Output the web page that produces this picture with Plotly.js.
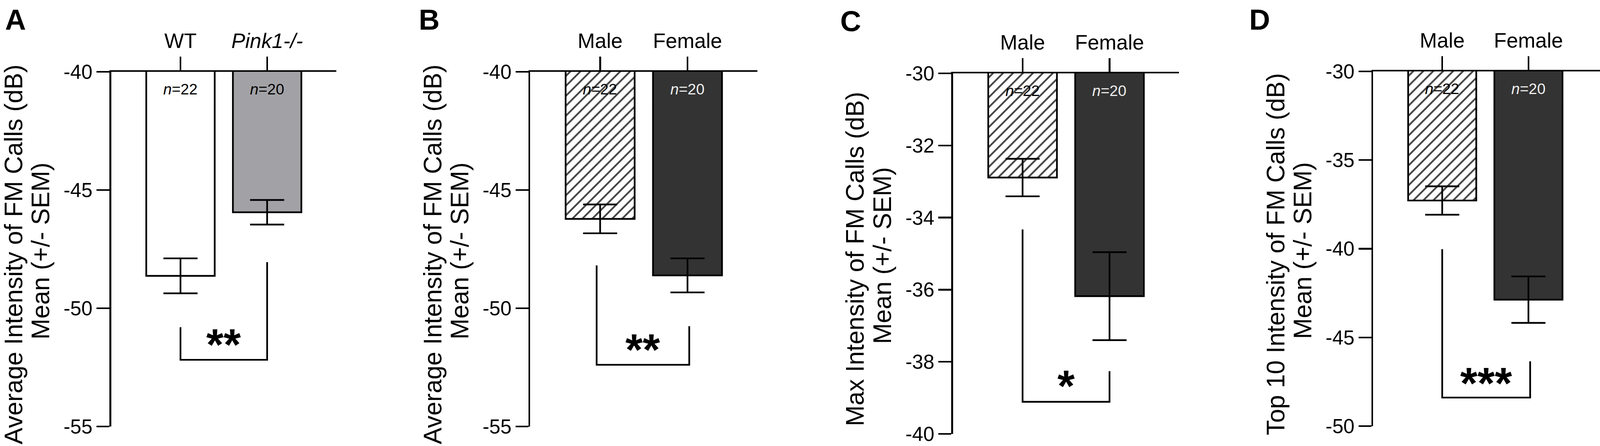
<!DOCTYPE html>
<html>
<head>
<meta charset="utf-8">
<script src="https://cdn.plot.ly/plotly-3.0.1.min.js"></script>
<style>
  html, body { margin: 0; padding: 0; background: #fff; overflow: hidden; }
  #chart { width: 100vw; height: 100vh; }
</style>
</head>
<body>
<div id="chart"></div>
<script>
// ---- data ----
const panelLetters = ['A', 'B', 'C', 'D'];
const groupsGenotype = ['WT', '<i>Pink1-/-</i>'];
const groupsSex = ['Male', 'Female'];
const nLabels = ['<i>n</i>=22', '<i>n</i>=20'];

const meansA = [-48.63, -45.94];
const semA = [0.74, 0.52];
const meansB = [-46.22, -48.61];
const semB = [0.61, 0.72];
const meansC = [-32.89, -36.18];
const semC = [0.52, 1.22];
const meansD = [-37.28, -42.87];
const semD = [0.80, 1.31];

const yTitles = [
  'Average Intensity of FM Calls (dB)',
  'Average Intensity of FM Calls (dB)',
  'Max Intensity of FM Calls (dB)',
  'Top 10 Intensity of FM Calls (dB)'
];
const yTitleLine2 = 'Mean (+/- SEM)';
const yRanges = [[-55, -40], [-55, -40], [-40, -30], [-50, -30]];
const yTicks = [[-55, -50, -45, -40], [-55, -50, -45, -40], [-40, -38, -36, -34, -32, -30], [-50, -45, -40, -35, -30]];

// significance brackets: x of both legs, top of each leg, bottom bar, label
const sigLabels = ['**', '**', '*', '***'];
const bracketX = [[0, 1], [-0.04, 1.02], [0, 1], [0, 1.02]];
const bracketTops = [[-50.8, -48.05], [-48.19, -50.76], [-34.33, -38.26], [-40.02, -46.35]];
const bracketBottom = [-52.18, -52.39, -39.11, -48.39];
const sigY = [-51.28, -51.5, -38.5, -47.24];

// ---- layout geometry (pixels of the 4318x1143 reference) ----
const W0 = 4318, H0 = 1143;
const W = window.innerWidth || W0, H = window.innerHeight || H0;
const kx = W / W0, ky = H / H0;   // the viewport may be narrower than the reference
const xDomPx = [[300, 908], [1431, 2044], [2572, 3182], [3706, 4318]];
const yDomPx = [[184, 1093], [184, 1093], [188, 1112], [183, 1092]];
const xRanges = [[-0.8, 1.8], [-0.8, 1.8], [-0.8, 1.8], [-0.8, 1.83]];
const letterPx = [[42, 50], [1158, 50], [2296, 54], [3399, 50]];

const FONT = 'Liberation Sans, Arial, Helvetica, sans-serif';
const LW = 4.4;

const panels = [
  { cats: groupsGenotype, means: meansA, sem: semA, colors: ['#ffffff', '#a2a2a6'], shapes: ['', ''], nColors: ['#000', '#000'] },
  { cats: groupsSex, means: meansB, sem: semB, colors: ['#ffffff', '#333333'], shapes: ['/', ''], nColors: ['#000', '#eeeeee'] },
  { cats: groupsSex, means: meansC, sem: semC, colors: ['#ffffff', '#333333'], shapes: ['/', ''], nColors: ['#000', '#eeeeee'] },
  { cats: groupsSex, means: meansD, sem: semD, colors: ['#ffffff', '#333333'], shapes: ['/', ''], nColors: ['#000', '#eeeeee'] }
];

const data = [];
const annotations = [];
const layout = {
  width: W,
  height: H,
  margin: { l: 0, r: 0, t: 0, b: 0 },
  paper_bgcolor: '#fff',
  plot_bgcolor: 'rgba(0,0,0,0)',
  showlegend: false,
  font: { family: FONT, color: '#000' },
  annotations: annotations
};

panels.forEach((p, i) => {
  const s = i === 0 ? '' : String(i + 1);
  const xa = 'x' + s, ya = 'y' + s;

  layout['xaxis' + s] = {
    domain: [xDomPx[i][0] / W0, xDomPx[i][1] / W0],
    anchor: ya,
    side: 'top',
    range: xRanges[i],
    tickvals: [0, 1],
    ticktext: p.cats,
    showline: true, linecolor: '#000', linewidth: LW,
    ticks: 'outside', ticklen: 35 * ky, tickwidth: LW, tickcolor: '#000',
    tickfont: { family: FONT, size: 56 * kx, color: '#000' },
    ticklabeloverflow: 'allow',
    showgrid: false, zeroline: false, fixedrange: true
  };
  layout['yaxis' + s] = {
    domain: [1 - yDomPx[i][1] / H0, 1 - yDomPx[i][0] / H0],
    anchor: xa,
    range: yRanges[i],
    tickvals: yTicks[i],
    ticktext: yTicks[i].map(String),
    showline: true, linecolor: '#000', linewidth: LW,
    ticks: 'outside', ticklen: 35 * kx, tickwidth: LW, tickcolor: '#000',
    tickfont: { family: FONT, size: 54 * kx, color: '#000' },
    ticklabeloverflow: 'allow',
    showgrid: false, zeroline: false, fixedrange: true
  };

  data.push({
    type: 'bar',
    x: [0, 1],
    y: p.means,
    xaxis: xa, yaxis: ya,
    width: 0.79,
    marker: {
      color: p.colors,
      line: { color: '#000', width: LW },
      pattern: {
        shape: p.shapes, fillmode: 'overlay', fgcolor: '#000', bgcolor: '#fff',
        fgopacity: 1, size: 19 * kx, solidity: 0.25
      }
    },
    error_y: { type: 'data', array: p.sem, visible: true, color: '#000', thickness: LW, width: 46 * kx },
    hoverinfo: 'skip'
  });

  // significance bracket
  data.push({
    type: 'scatter', mode: 'lines',
    x: [bracketX[i][0], bracketX[i][0], bracketX[i][1], bracketX[i][1]],
    y: [bracketTops[i][0], bracketBottom[i], bracketBottom[i], bracketTops[i][1]],
    xaxis: xa, yaxis: ya,
    line: { color: '#000', width: LW },
    cliponaxis: false,
    hoverinfo: 'skip'
  });

  annotations.push({
    xref: xa, yref: ya,
    x: (bracketX[i][0] + bracketX[i][1]) / 2, y: sigY[i],
    yshift: -15 * ky,
    text: sigLabels[i], showarrow: false,
    xanchor: 'center', yanchor: 'middle',
    font: { family: FONT, size: 120 * kx, weight: 'bold', color: '#000' }
  });

  // n labels inside the bars
  p.cats.forEach((c, j) => {
    annotations.push({
      xref: xa, yref: ya + ' domain',
      x: j, y: 1, yshift: -44 * ky,
      text: nLabels[j], showarrow: false,
      xanchor: 'center', yanchor: 'middle',
      font: { family: FONT, size: 41 * kx, color: p.nColors[j] }
    });
  });

  // y-axis title, one annotation per line
  [[yTitles[i], -264, -14], [yTitleLine2, -191, -5]].forEach(([txt, dx, dy]) => {
    annotations.push({
      xref: xa + ' domain', yref: ya + ' domain',
      x: 0, y: 0.5, xshift: dx * kx, yshift: dy * ky,
      text: txt,
      textangle: -90, showarrow: false,
      xanchor: 'center', yanchor: 'middle',
      font: { family: FONT, size: 64 * ky, color: '#000' }
    });
  });

  // panel letter
  annotations.push({
    xref: 'paper', yref: 'paper',
    x: letterPx[i][0] / W0, y: 1 - letterPx[i][1] / H0,
    text: panelLetters[i], showarrow: false,
    xanchor: 'center', yanchor: 'middle',
    font: { family: FONT, size: 78 * kx, weight: 'bold', color: '#000' }
  });
});

Plotly.newPlot('chart', data, layout, { staticPlot: true, displayModeBar: false });
</script>
</body>
</html>
